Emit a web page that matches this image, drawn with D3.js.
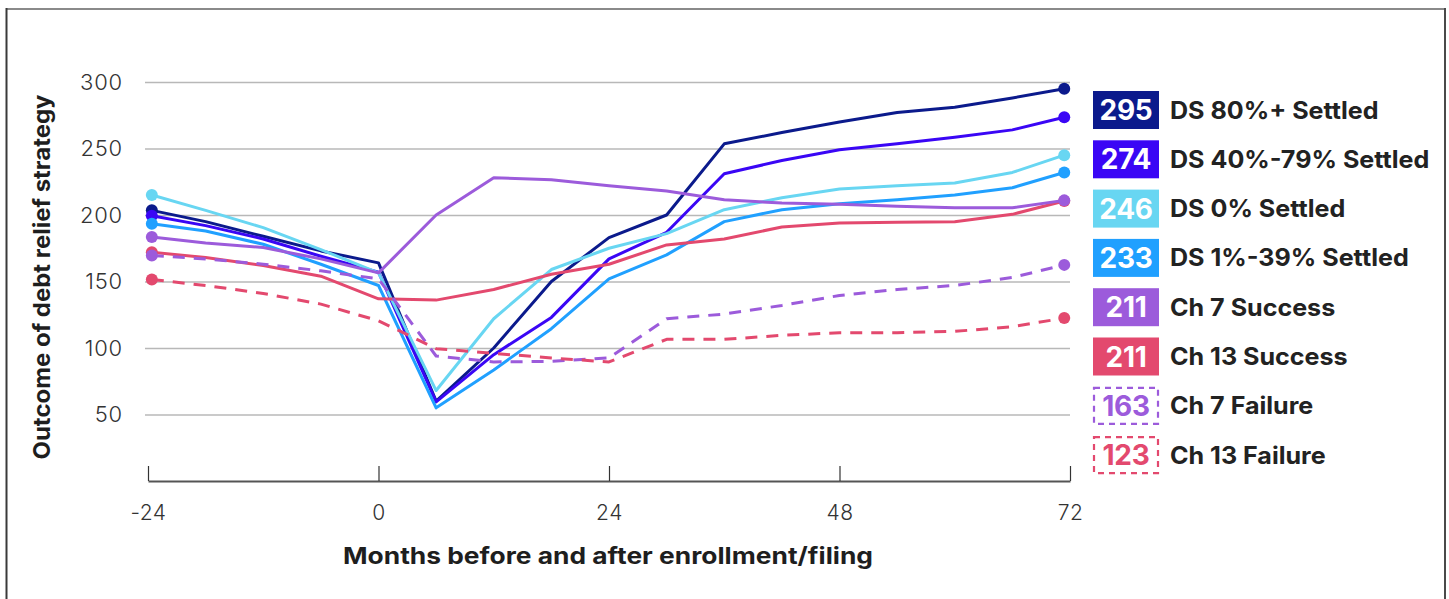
<!DOCTYPE html>
<html>
<head>
<meta charset="utf-8">
<script src="https://cdn.jsdelivr.net/npm/d3@7/dist/d3.min.js"></script>
<style>
  html, body { margin: 0; padding: 0; background: #fff; }
  svg { display: block; font-family: Inter, "Noto Sans", sans-serif; }
</style>
</head>
<body>
<svg id="chart" width="1449" height="599"></svg>
<script>
// ---- data ----
const months = [-23.6, -18, -12, -6, 0, 6, 12, 18, 24, 30, 36, 42, 48, 54, 60, 66, 71.4];
const seriesNames = ["DS 80%+ Settled", "DS 40%-79% Settled", "DS 0% Settled", "DS 1%-39% Settled",
                     "Ch 7 Success", "Ch 13 Success", "Ch 7 Failure", "Ch 13 Failure"];
const legendValues = [295, 274, 246, 233, 211, 211, 163, 123];
const ds80   = [203.5, 195, 184, 173, 164, 60, 100, 150, 183, 200, 253.5, 262, 270, 277, 281, 288, 295];
const ds4079 = [199.5, 192, 182, 169, 157, 59.5, 95, 123, 167, 187, 231, 241, 249, 253.5, 258.5, 264, 273.5];
const ds0    = [215, 203.5, 190.5, 174, 156.5, 68, 122, 159, 175, 186, 204, 213, 219.5, 222, 224, 232, 245];
const ds139  = [193.5, 188, 178, 163, 147, 55, 83.5, 114.5, 152, 170, 195, 204, 208.5, 211.5, 215, 220.5, 232];
const ch7s   = [183.5, 179, 175.5, 167, 156.5, 200, 228, 226.5, 222, 218, 211.5, 209, 208, 206.5, 205.5, 205.5, 211];
const ch13s  = [172, 168, 162, 154, 137, 136, 144, 155.5, 163, 177.5, 182, 191, 194, 194.5, 195, 200.5, 210.5];
const ch7f   = [169.5, 167, 163, 158, 152, 94, 89.5, 90, 92.5, 122, 125.5, 132, 139.5, 144, 147, 153, 162.5];
const ch13f  = [151.5, 147, 141, 133, 120.5, 99.5, 96, 92.5, 89.5, 106.5, 106.5, 109.5, 111.5, 111.5, 112.5, 116, 122.5];
const xTicks = [-24, 0, 24, 48, 72];
const yTicks = [50, 100, 150, 200, 250, 300];
const xTitle = "Months before and after enrollment/filing";
const yTitle = "Outcome of debt relief strategy";

// ---- styles ----
const colors = ["#0b1a8c", "#3a06f5", "#68d6f2", "#20a0ff", "#9c5bdb", "#e3496e", "#9c5bdb", "#e3496e"];
const dashed = [false, false, false, false, false, false, true, true];
const allValues = [ds80, ds4079, ds0, ds139, ch7s, ch13s, ch7f, ch13f];
const drawOrder = [0, 1, 2, 3, 5, 4, 6, 7];

const svg = d3.select("#chart");

// frame
svg.append("line").attr("x1", 6).attr("x2", 1445).attr("y1", 9).attr("y2", 9).attr("stroke", "#8a8a8a").attr("stroke-width", 2);
svg.append("line").attr("x1", 6.5).attr("x2", 6.5).attr("y1", 8).attr("y2", 599).attr("stroke", "#3a3a3a").attr("stroke-width", 2);
svg.append("line").attr("x1", 1445).attr("x2", 1445).attr("y1", 8).attr("y2", 599).attr("stroke", "#4a4a4a").attr("stroke-width", 2);

const x = d3.scaleLinear().domain([-24, 72]).range([148, 1070]);
const y = d3.scaleLinear().domain([0, 300]).range([481, 82]);

// y grid + labels
const yAxis = d3.axisLeft(y).tickValues(yTicks).tickSize(-(1070 - 145)).tickPadding(22).tickFormat(d => String(d));
const gy = svg.append("g").attr("transform", "translate(145,0)").call(yAxis);
gy.select(".domain").remove();
gy.selectAll(".tick line").attr("stroke", "#b8b8b8").attr("stroke-width", 1.6);
gy.selectAll(".tick text").attr("font-size", 22).attr("fill", "#333").attr("font-weight", 300)
  .attr("letter-spacing", 0.8).attr("font-family", "Inter, sans-serif");

// x axis
const xAxis = d3.axisBottom(x).tickValues(xTicks).tickSize(-15).tickPadding(24).tickSizeOuter(0).tickFormat(d => String(d));
const gx = svg.append("g").attr("transform", "translate(0,481)").call(xAxis);
gx.select(".domain").attr("stroke", "#555").attr("stroke-width", 2.2);
gx.selectAll(".tick line").attr("stroke", "#333").attr("stroke-width", 1.2);
gx.selectAll(".tick text").attr("font-size", 21).attr("fill", "#333").attr("font-weight", 300)
  .attr("letter-spacing", 0.5).attr("font-family", "Inter, sans-serif");

// titles
svg.append("text").attr("x", 608).attr("y", 564).attr("text-anchor", "middle")
  .attr("font-size", 23).attr("font-weight", 700).attr("fill", "#1e1e1e")
  .attr("textLength", 530).attr("lengthAdjust", "spacingAndGlyphs").text(xTitle);
svg.append("text").attr("transform", "translate(50,277) rotate(-90)").attr("text-anchor", "middle")
  .attr("font-size", 23).attr("font-weight", 700).attr("fill", "#1e1e1e")
  .attr("textLength", 365).attr("lengthAdjust", "spacingAndGlyphs").text(yTitle);

// lines
const line = d3.line().x((d, i) => x(months[i])).y(d => y(d));
drawOrder.forEach(k => {
  const vals = allValues[k];
  const g = svg.append("g");
  g.append("path").datum(vals).attr("d", line).attr("fill", "none")
    .attr("stroke", colors[k]).attr("stroke-width", 3)
    .attr("stroke-linejoin", "round")
    .attr("stroke-dasharray", dashed[k] ? "12,9" : null);
  const ends = [0, vals.length - 1];
  g.selectAll("circle").data(ends).join("circle")
    .attr("cx", i => x(months[i])).attr("cy", i => y(vals[i])).attr("r", 6)
    .attr("fill", colors[k]);
});

// legend
const leg = svg.append("g");
seriesNames.forEach((name, k) => {
  const top = 91 + k * 49.3;
  if (dashed[k]) {
    leg.append("rect").attr("x", 1094).attr("y", top + 1).attr("width", 64).attr("height", 36)
      .attr("fill", "#fff").attr("stroke", colors[k]).attr("stroke-width", 2.2).attr("stroke-dasharray", "6,5");
  } else {
    leg.append("rect").attr("x", 1093).attr("y", top).attr("width", 66).attr("height", 38).attr("fill", colors[k]);
  }
  leg.append("text").attr("x", 1126).attr("y", top + 29).attr("text-anchor", "middle")
    .attr("font-size", 28).attr("font-weight", 700).attr("letter-spacing", -0.3)
    .attr("fill", dashed[k] ? colors[k] : "#fff").text(legendValues[k]);
  const t = leg.append("text").attr("x", 1170).attr("y", top + 27.5).attr("font-size", 24).attr("font-weight", 700)
    .attr("fill", "#222").text(name);
  const w = t.node().getComputedTextLength();
  t.attr("textLength", w * 1.045).attr("lengthAdjust", "spacingAndGlyphs");
});
</script>
</body>
</html>
